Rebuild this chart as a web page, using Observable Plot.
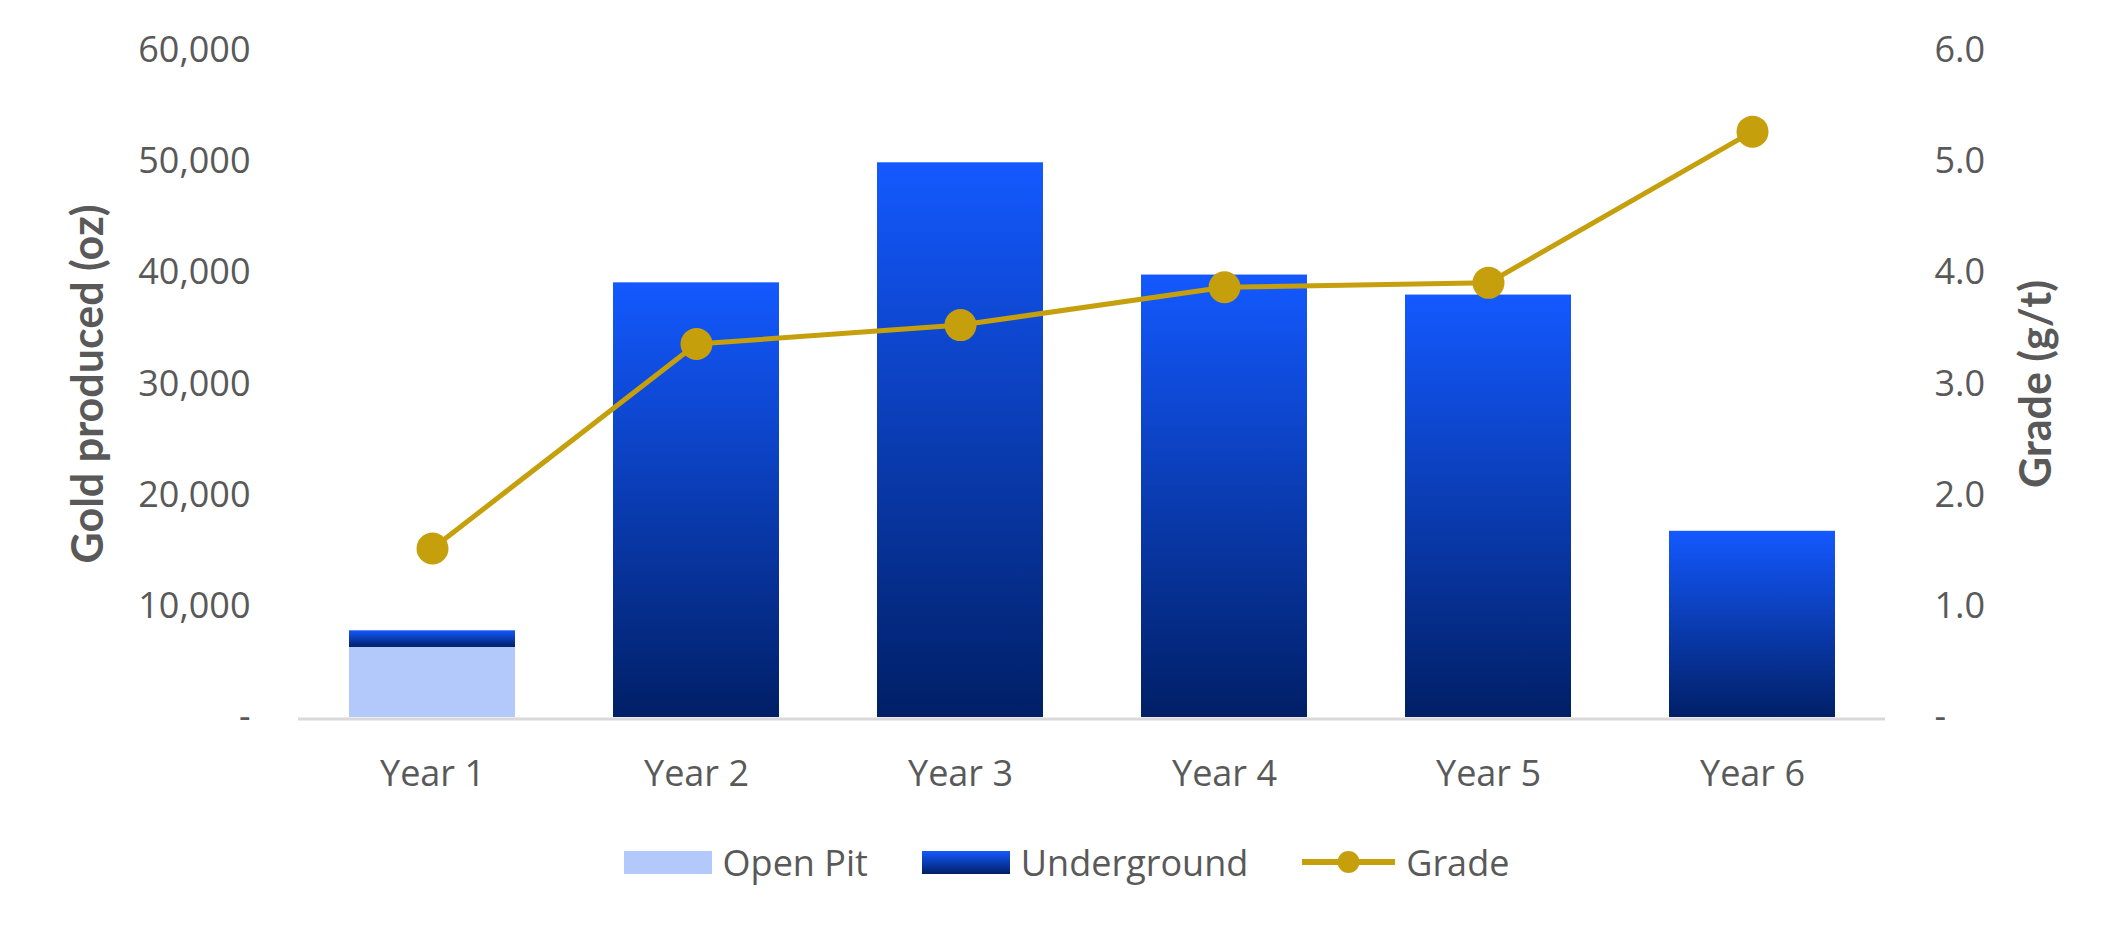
<!DOCTYPE html>
<html>
<head>
<meta charset="utf-8">
<script src="https://cdn.jsdelivr.net/npm/d3@7"></script>
<script src="https://cdn.jsdelivr.net/npm/@observablehq/plot@0.6"></script>
<style>
  html, body { margin: 0; padding: 0; background: #fff; }
  #chart { width: 2121px; }
  #legend { width: 2121px; height: 84px; display: flex; justify-content: center; align-items: center;
            font-family: "Open Sans", sans-serif; font-size: 36px; color: #595959; box-sizing: border-box; padding-left: 12px; }
  .item { display: flex; align-items: center; margin: 0 27px; }
  .sw { display: inline-block; width: 88px; height: 23px; margin-right: 11px; }
</style>
</head>
<body>
<div id="chart"></div>
<div id="legend"></div>
<script>
const years = ["Year 1", "Year 2", "Year 3", "Year 4", "Year 5", "Year 6"];
const openPit = [6300, 0, 0, 0, 0, 0];
const underground = [1500, 39100, 49900, 39800, 38000, 16750];
const grade = [1.52, 3.36, 3.53, 3.87, 3.91, 5.27];
const leftTicks = [0, 10000, 20000, 30000, 40000, 50000, 60000];
const seriesNames = ["Open Pit", "Underground", "Grade"];

const openPitColor = "#b3c9fc";
const gradTop = "#1459ff";
const gradBottom = "#001f66";
const gold = "#c5a00c";
const textColor = "#595959";

const rows = [];
years.forEach((y, i) => { if (openPit[i] > 0) rows.push({year: y, source: "Open Pit", value: openPit[i]}); });
years.forEach((y, i) => { if (underground[i] > 0) rows.push({year: y, source: "Underground", value: underground[i]}); });
const gradeRows = years.map((y, i) => ({year: y, grade: grade[i]}));

const gradeScale = 10000; // 6.0 g/t on right axis aligns with 60,000 oz on left

const svg = Plot.plot({
  width: 2121,
  height: 820,
  marginTop: 50,
  marginBottom: 103,
  marginLeft: 298,
  marginRight: 236,
  style: {fontFamily: "'Open Sans', sans-serif", fontSize: "36px", color: textColor, background: "#fff"},
  x: {type: "band", domain: years, paddingInner: 0.372, paddingOuter: 0.186},
  y: {domain: [0, 60000]},
  color: {type: "ordinal", domain: ["Open Pit", "Underground"], range: [openPitColor, "url(#ugGrad)"]},
  marks: [
    Plot.ruleY([0], {stroke: "#d9d9d9", strokeWidth: 3, dy: 1.5}),
    Plot.barY(rows, {x: "year", y: "value", fill: "source", order: null}),
    Plot.lineY(gradeRows, {x: "year", y: d => d.grade * gradeScale, stroke: gold, strokeWidth: 5}),
    Plot.dot(gradeRows, {x: "year", y: d => d.grade * gradeScale, r: 16, fill: gold, stroke: "none"}),
    Plot.axisY({anchor: "left", ticks: leftTicks, tickSize: 0, tickPadding: 48, label: null,
      tickFormat: d => d === 0 ? "-" : d3.format(",")(d)}),
    Plot.axisY({anchor: "right", ticks: leftTicks, tickSize: 0, tickPadding: 49, label: null,
      tickFormat: d => d === 0 ? "-" : (d / gradeScale).toFixed(1)}),
    Plot.axisX({tickSize: 0, tickPadding: 43, label: null}),
    Plot.text(["Gold produced (oz)"], {frameAnchor: "left", dx: -209, rotate: -90, textAnchor: "middle",
      fontFamily: "Lato, sans-serif", fontWeight: "bold", fontSize: 43, fill: textColor}),
    Plot.text(["Grade (g/t)"], {frameAnchor: "right", dx: 152, rotate: -90, textAnchor: "middle",
      fontFamily: "Lato, sans-serif", fontWeight: "bold", fontSize: 43, fill: textColor})
  ]
});

const defs = d3.select(svg).insert("defs", ":first-child");
const lg = defs.append("linearGradient").attr("id", "ugGrad")
  .attr("x1", 0).attr("y1", 0).attr("x2", 0).attr("y2", 1);
lg.append("stop").attr("offset", "0%").attr("stop-color", gradTop);
lg.append("stop").attr("offset", "100%").attr("stop-color", gradBottom);

document.getElementById("chart").appendChild(svg);

// Legend
const legend = d3.select("#legend");
const swatchStyles = {
  "Open Pit": `background:${openPitColor}`,
  "Underground": `background:linear-gradient(${gradTop}, ${gradBottom})`
};
seriesNames.forEach(name => {
  const item = legend.append("span").attr("class", "item");
  if (name === "Grade") {
    const s = item.append("svg").attr("width", 93).attr("height", 24).style("margin-right", "11px");
    s.append("line").attr("x1", 0).attr("x2", 93).attr("y1", 12).attr("y2", 12)
      .attr("stroke", gold).attr("stroke-width", 6).attr("stroke-linecap", "round");
    s.append("circle").attr("cx", 46.5).attr("cy", 12).attr("r", 11).attr("fill", gold);
  } else {
    item.append("span").attr("class", "sw").attr("style", swatchStyles[name]);
  }
  item.append("span").text(name);
});
</script>
</body>
</html>
